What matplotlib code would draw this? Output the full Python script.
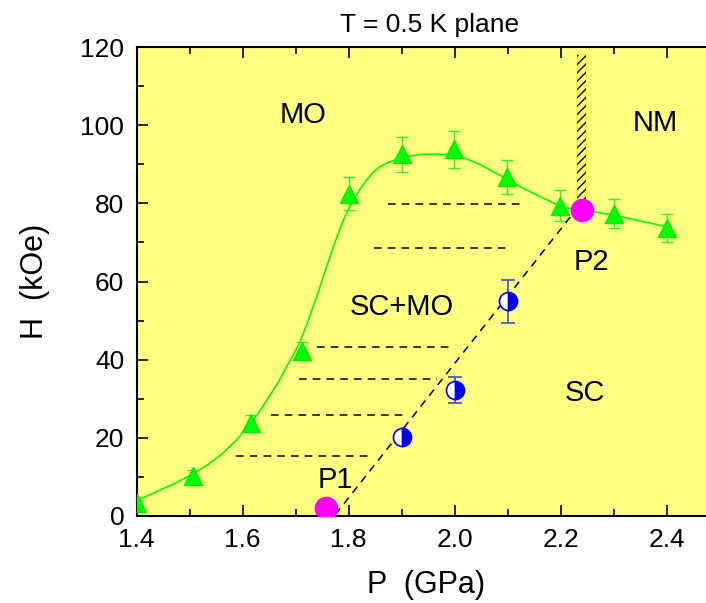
import matplotlib.pyplot as plt
from matplotlib.ticker import MultipleLocator

plt.rcParams["font.family"] = ["Liberation Sans", "DejaVu Sans"]
plt.rcParams["hatch.linewidth"] = 1.0

# green triangles: onset of magnetic order
p_mo = [1.40, 1.507, 1.615, 1.711, 1.80, 1.90, 1.998, 2.099, 2.199, 2.30, 2.40]
h_mo = [3.4, 10.3, 23.8, 42.3, 82.5, 92.6, 93.8, 86.8, 79.4, 77.4, 73.7]
h_mo_err = [0.8, 1.5, 2.0, 2.1, 4.2, 4.5, 4.7, 4.3, 4.0, 3.7, 3.6]

# smooth guide line
p_fit = [1.399, 1.436, 1.471, 1.506, 1.535, 1.562, 1.588, 1.613, 1.632, 1.650,
         1.667, 1.682, 1.696, 1.708, 1.721, 1.733, 1.743, 1.752, 1.762, 1.771,
         1.781, 1.790, 1.800, 1.809, 1.821, 1.834, 1.846, 1.859, 1.877, 1.897,
         1.916, 1.935, 1.950, 1.966, 1.983, 2.000, 2.018, 2.035, 2.055, 2.073,
         2.101, 2.136, 2.174, 2.202, 2.243, 2.299, 2.350, 2.400]
h_fit = [3.9, 6.1, 8.3, 10.7, 13.2, 16.0, 19.4, 23.3, 26.8, 30.5,
         34.2, 38.0, 41.4, 44.5, 49.0, 53.6, 57.4, 61.2, 65.2, 68.9,
         72.5, 75.7, 78.5, 80.9, 83.6, 86.0, 87.9, 89.4, 90.6, 91.5,
         92.1, 92.5, 92.6, 92.6, 92.5, 92.3, 91.6, 90.7, 89.4, 88.1,
         86.0, 83.4, 80.9, 79.0, 78.3, 77.0, 75.5, 74.0]

# blue half-filled circles: SC / SC+MO boundary
p_sc = [1.90, 2.00, 2.10]
h_sc = [20.1, 32.3, 55.0]
h_sc_err = [1.0, 3.3, 5.5]

# P1 and P2
p_pt = [1.758, 2.24]
h_pt = [2.1, 78.3]

# dashed boundary line
p_bnd = [1.775, 2.236]
h_bnd = [0.4, 79.6]

# horizontal tie lines (h, p_start, p_end)
tie_h = [79.8, 68.6, 43.2, 35.1, 25.9, 15.3]
tie_p0 = [1.874, 1.847, 1.741, 1.707, 1.653, 1.588]
tie_p1 = [2.13, 2.102, 1.997, 1.966, 1.908, 1.845]

# hatched column above P2
col_p = [2.231, 2.247]
col_h = [79.6, 118.0]

labels = ["MO", "NM", "SC+MO", "SC", "P1", "P2"]
label_p = [1.713, 2.378, 1.90, 2.246, 1.774, 2.257]
label_h = [102.6, 100.5, 53.6, 31.4, 9.2, 65.0]

fig = plt.figure(figsize=(7.06, 6.03), dpi=100)
ax = fig.add_axes([0.1936, 0.1443, 0.8064, 0.7777])
ax.set_facecolor("#ffff80")

ax.plot(p_fit, h_fit, color="#00ff00", lw=1.2, zorder=2)
ax.errorbar(p_mo, h_mo, yerr=h_mo_err, fmt="none", ecolor="#33ee33",
            elinewidth=1.0, capsize=4, capthick=1.0, zorder=2)
ax.plot(p_mo, h_mo, "^", color="#00ff00", ms=13, mec="#00ee00", zorder=3)

ax.plot(p_bnd, h_bnd, color="black", lw=1.1, dashes=(5, 4), zorder=2)
for h, a, b in zip(tie_h, tie_p0, tie_p1):
    ax.plot([a, b], [h, h], color="black", lw=1.1, dashes=(5, 4), zorder=2)

ax.fill_between(col_p, col_h[0], col_h[1], facecolor="#ffff80",
                edgecolor="#ffff00", lw=1.2, zorder=2)
ax.fill_between(col_p, col_h[0], col_h[1], facecolor="none",
                edgecolor="black", hatch="////", lw=0, zorder=2)

ax.errorbar(p_sc, h_sc, yerr=h_sc_err, fmt="none", ecolor="#4a5ad0",
            elinewidth=1.3, capsize=5, capthick=1.3, zorder=3)
ax.plot(p_sc, h_sc, "o", ms=13, fillstyle="right", mfc="#0000ff",
        mfcalt="white", mec="#0000ff", mew=1.2, zorder=4)

ax.plot(p_pt, h_pt, "o", ms=16, color="#ff00ff", mec="#ff00ff", zorder=3)

for t, x, y in zip(labels, label_p, label_h):
    ax.text(x, y, t, fontsize=21, ha="center", va="center", zorder=5)

ax.set_xlim(1.4, 2.474)
ax.set_ylim(0, 120)
ax.xaxis.set_major_locator(MultipleLocator(0.2))
ax.xaxis.set_minor_locator(MultipleLocator(0.1))
ax.yaxis.set_major_locator(MultipleLocator(20))
ax.yaxis.set_minor_locator(MultipleLocator(10))
ax.xaxis.set_major_formatter(plt.FuncFormatter(lambda v, _: f"{v:.1f}"))
ax.tick_params(which="both", direction="in", top=True, right=False,
               labelsize=19, width=1.2)
ax.tick_params(which="major", length=8, pad=9)
ax.tick_params(which="minor", length=5)
for s in ax.spines.values():
    s.set_linewidth(1.5)
ax.spines["right"].set_visible(False)

ax.set_xlabel("P  (GPa)", fontsize=22, va="center", ha="center")
ax.set_ylabel("H  (kOe)", fontsize=22, va="center", ha="center")
ax.xaxis.set_label_coords(0.509, -0.147)
ax.yaxis.set_label_coords(-0.179, 0.5)
fig.text(0.609, 0.958, "T = 0.5 K plane", fontsize=19, ha="center", va="center")

fig.savefig("out.png", dpi=100)
